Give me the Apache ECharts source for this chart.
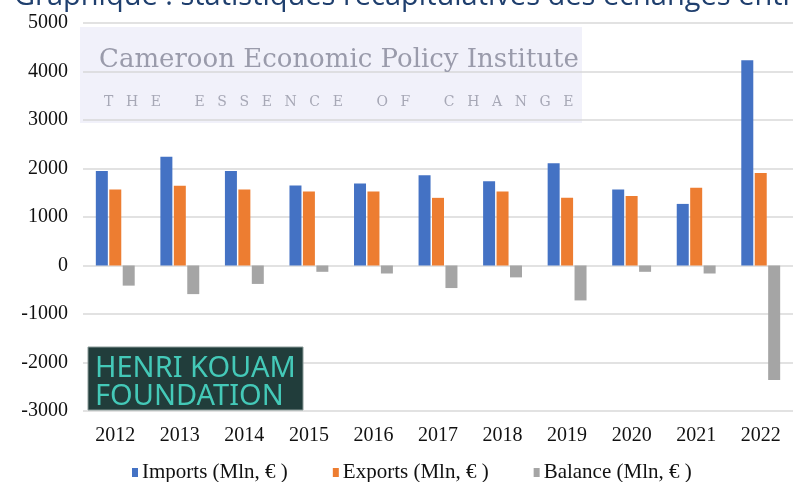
<!DOCTYPE html>
<html lang="fr">
<head>
    <meta charset="UTF-8">
    <title>Statistiques des échanges</title>
    <script src="https://cdn.jsdelivr.net/npm/echarts@6/dist/echarts.min.js"></script>
    <style>
        html, body { margin: 0; padding: 0; background: #fff; }
        #main { width: 793px; height: 482px; }
    </style>
</head>
<body>
    <div id="main"></div>
    <script type="text/javascript">
        var years = ['2012', '2013', '2014', '2015', '2016', '2017', '2018', '2019', '2020', '2021', '2022'];
        var imports = [1950, 2240, 1950, 1650, 1690, 1860, 1735, 2110, 1565, 1270, 4230];
        var exports = [1565, 1645, 1565, 1525, 1525, 1395, 1525, 1395, 1435, 1605, 1905];
        var balance = [-415, -590, -380, -130, -165, -465, -245, -720, -130, -165, -2360];
        var yTicks = [-3000, -2000, -1000, 0, 1000, 2000, 3000, 4000, 5000];

        var serif = '"Liberation Serif", "DejaVu Serif", serif';
        var myChart = echarts.init(document.getElementById('main'));

        // lettres espacées du bandeau
        var sp = '\u2002\u2009\u2009';
        var essence = ['THE', 'ESSENCE', 'OF', 'CHANGE'].map(function (w) {
            return w.split('').join(sp);
        }).join(sp + '\u2003\u2002');

        var option = {
            animation: false,
            color: ['#4472C4', '#ED7D31', '#A5A5A5'],
            grid: { left: 83, right: -5, top: 23, bottom: 71 },
            legend: {
                left: 127,
                top: 457,
                icon: 'rect',
                itemWidth: 6,
                itemHeight: 9,
                itemGap: 45,
                textStyle: { fontFamily: serif, fontSize: 21, color: '#111', padding: [0, 0, 0, -1] },
                data: ['Imports (Mln, € )', 'Exports (Mln, € )', 'Balance (Mln, € )']
            },
            graphic: [
                {
                    type: 'text', left: 14, top: -18, z: 10,
                    style: {
                        text: 'Graphique : statistiques récapitulatives des échanges entre',
                        fill: '#1F3F6E',
                        font: '29px "Open Sans", "Noto Sans", sans-serif'
                    }
                },
                {
                    type: 'rect', z: 0,
                    shape: { x: 80, y: 27, width: 502, height: 96 },
                    style: { fill: 'rgba(236,236,248,0.75)' }
                },
                {
                    type: 'text', left: 99, top: 47, z: 10,
                    style: {
                        text: 'Cameroon Economic Policy Institute',
                        fill: '#9a9bab',
                        font: '26px "DejaVu Serif", "Liberation Serif", serif'
                    }
                },
                {
                    type: 'text', left: 104, top: 95, z: 10,
                    style: {
                        text: essence,
                        fill: '#a7a8b6',
                        font: '14px "DejaVu Serif", "Liberation Serif", serif'
                    }
                },
                {
                    type: 'rect', z: 10,
                    shape: { x: 88, y: 347, width: 215, height: 63 },
                    style: { fill: '#213d3b', stroke: '#8a9a98', lineWidth: 1 }
                },
                {
                    type: 'text', left: 95, top: 354, z: 11,
                    style: {
                        text: 'HENRI KOUAM\nFOUNDATION',
                        fill: '#44c9b8',
                        lineHeight: 28,
                        font: '29px "Noto Sans", Lato, sans-serif'
                    }
                }
            ],
            xAxis: {
                type: 'category',
                data: years,
                axisLine: { show: false },
                axisTick: { show: false },
                axisLabel: { margin: 15, fontFamily: serif, fontSize: 20, color: '#111' }
            },
            yAxis: {
                type: 'value',
                min: yTicks[0],
                max: yTicks[yTicks.length - 1],
                interval: 1000,
                axisLine: { show: false },
                axisTick: { show: false },
                axisLabel: {
                    margin: 15, fontFamily: serif, fontSize: 20, color: '#111',
                    formatter: function (v) { return String(v); }
                },
                splitLine: { lineStyle: { color: '#d9d9d9', width: 1.5 } }
            },
            series: [
                { name: 'Imports (Mln, € )', type: 'bar', barWidth: 12, barGap: '12%', data: imports },
                { name: 'Exports (Mln, € )', type: 'bar', barWidth: 12, barGap: '12%', data: exports },
                { name: 'Balance (Mln, € )', type: 'bar', barWidth: 12, barGap: '12%', data: balance }
            ]
        };
        myChart.setOption(option);
    </script>
</body>
</html>
